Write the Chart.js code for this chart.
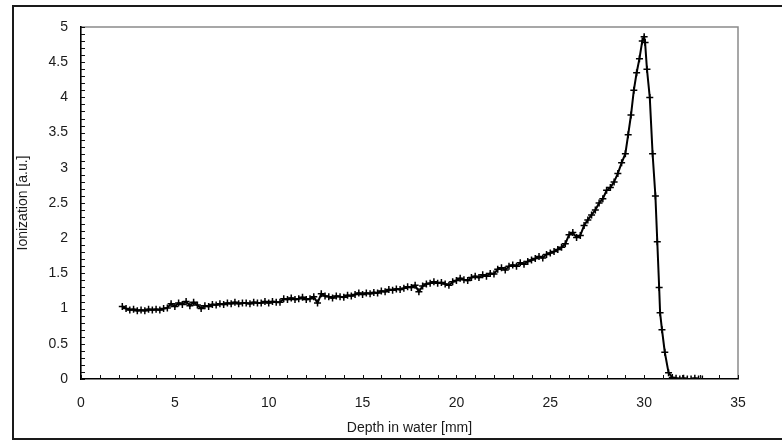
<!DOCTYPE html>
<html>
<head>
<meta charset="utf-8">
<script src="https://cdn.jsdelivr.net/npm/chart.js@4.4.1/dist/chart.umd.min.js"></script>
<style>
  html, body { margin: 0; padding: 0; background: #fff; }
  #wrap { width: 782px; height: 441px; position: relative; }
</style>
</head>
<body>
<div id="wrap"><canvas id="c" width="782" height="441"></canvas></div>
<script>
// Depth in water [mm]
const depth = [
  2.2, 2.4, 2.6, 2.8, 3.0, 3.2, 3.4, 3.6, 3.8, 4.0,
  4.2, 4.4, 4.6, 4.8, 5.0, 5.2, 5.4, 5.6, 5.8, 6.0,
  6.2, 6.4, 6.6, 6.8, 7.0, 7.2, 7.4, 7.6, 7.8, 8.0,
  8.2, 8.4, 8.6, 8.8, 9.0, 9.2, 9.4, 9.6, 9.8, 10.0,
  10.2, 10.4, 10.6, 10.8, 11.0, 11.2, 11.4, 11.6, 11.8, 12.0,
  12.2, 12.4, 12.6, 12.8, 13.0, 13.2, 13.4, 13.6, 13.8, 14.0,
  14.2, 14.4, 14.6, 14.8, 15.0, 15.2, 15.4, 15.6, 15.8, 16.0,
  16.2, 16.4, 16.6, 16.8, 17.0, 17.2, 17.4, 17.6, 17.8, 18.0,
  18.2, 18.4, 18.6, 18.8, 19.0, 19.2, 19.4, 19.6, 19.8, 20.0,
  20.2, 20.4, 20.6, 20.8, 21.0, 21.2, 21.4, 21.6, 21.8, 22.0,
  22.2, 22.4, 22.6, 22.8, 23.0, 23.2, 23.4, 23.6, 23.8, 24.0,
  24.2, 24.4, 24.6, 24.8, 25.0, 25.2, 25.4, 25.6, 25.8, 26.0,
  26.2, 26.4, 26.6, 26.8, 27.0, 27.2, 27.4, 27.6, 27.8, 28.0,
  28.2, 28.4, 28.6, 28.8, 29.0, 29.15, 29.3, 29.45, 29.6, 29.75,
  29.9, 30.0, 30.05, 30.15, 30.3, 30.45, 30.6, 30.7, 30.8, 30.85,
  30.95, 31.1, 31.3, 31.5, 31.7, 31.9, 32.1, 32.3, 32.5, 32.7,
  32.9, 33.1
];
// Ionization [a.u.]
const ionization = [
  1.03, 1.00, 0.98, 0.99, 0.97, 0.98, 0.97, 0.99, 0.98, 0.99,
  0.98, 1.00, 1.01, 1.07, 1.03, 1.08, 1.06, 1.10, 1.04, 1.09,
  1.05, 1.00, 1.04, 1.03, 1.06, 1.05, 1.07, 1.06, 1.08, 1.07,
  1.09, 1.07, 1.08, 1.08, 1.07, 1.09, 1.08, 1.08, 1.10, 1.08,
  1.10, 1.09, 1.09, 1.14, 1.13, 1.15, 1.13, 1.14, 1.16, 1.13,
  1.14, 1.17, 1.08, 1.21, 1.18, 1.17, 1.15, 1.18, 1.17, 1.16,
  1.19, 1.18, 1.20, 1.22, 1.20, 1.22, 1.21, 1.23, 1.22, 1.25,
  1.24, 1.27, 1.26, 1.28, 1.27, 1.29, 1.31, 1.30, 1.33, 1.24,
  1.32, 1.35, 1.36, 1.38, 1.36, 1.37, 1.35, 1.33, 1.38, 1.40,
  1.43, 1.41, 1.40, 1.44, 1.46, 1.44, 1.48, 1.46, 1.50, 1.49,
  1.56, 1.58, 1.55, 1.60, 1.62, 1.60, 1.65, 1.63, 1.67, 1.69,
  1.71, 1.74, 1.72, 1.77, 1.79, 1.81, 1.84, 1.87, 1.92, 2.05,
  2.08, 2.01, 2.04, 2.18, 2.26, 2.33, 2.40, 2.50, 2.56, 2.68,
  2.72, 2.80, 2.92, 3.07, 3.20, 3.47, 3.75, 4.10, 4.35, 4.55,
  4.80, 4.86, 4.78, 4.40, 4.00, 3.20, 2.60, 1.95, 1.30, 0.94,
  0.70, 0.38, 0.09, 0.02, 0.01, 0.00, 0.01, 0.00, 0.00, 0.01,
  0.00, 0.00
];
const xTickStep = 5;
const yTickStep = 0.5;

const points = depth.map((d, i) => ({ x: d, y: ionization[i] }));

const frame = {
  id: 'frame',
  beforeDraw(chart) {
    const ctx = chart.ctx;
    ctx.save();
    ctx.fillStyle = '#fff';
    ctx.fillRect(0, 0, chart.width, chart.height);
    ctx.strokeStyle = '#1a1a1a';
    ctx.lineWidth = 2;
    ctx.strokeRect(13, 6, chart.width, 433);
    const a = chart.chartArea;
    ctx.strokeStyle = '#8a8a8a';
    ctx.lineWidth = 1.5;
    ctx.beginPath();
    ctx.moveTo(a.left, a.top);
    ctx.lineTo(a.right, a.top);
    ctx.lineTo(a.right, a.bottom);
    ctx.stroke();
    ctx.restore();
  },
  afterDraw(chart) {
    const ctx = chart.ctx;
    const xs = chart.scales.x, ys = chart.scales.y;
    const a = chart.chartArea;
    ctx.save();
    ctx.strokeStyle = '#111';
    ctx.lineWidth = 1;
    ctx.beginPath();
    for (let k = 0; k <= 50; k++) {
      const py = Math.round(ys.getPixelForValue(k / 10)) + 0.5;
      ctx.moveTo(a.left, py);
      ctx.lineTo(a.left + 4, py);
    }
    for (let k = 0; k <= 35; k++) {
      const px = Math.round(xs.getPixelForValue(k)) + 0.5;
      ctx.moveTo(px, a.bottom);
      ctx.lineTo(px, a.bottom - 4);
    }
    ctx.stroke();
    ctx.restore();
  }
};

Chart.defaults.font.family = '"Liberation Sans", Arial, sans-serif';
Chart.defaults.color = '#1a1a1a';

new Chart(document.getElementById('c'), {
  type: 'scatter',
  data: {
    datasets: [{
      data: points,
      showLine: true,
      borderColor: '#000',
      borderWidth: 2,
      pointStyle: 'cross',
      pointRadius: 3.5,
      pointBorderWidth: 1.5,
      pointBorderColor: '#000',
      pointBackgroundColor: '#000',
      tension: 0
    }]
  },
  options: {
    responsive: false,
    animation: false,
    devicePixelRatio: 1,
    layout: { padding: { left: 15, top: 27, right: 44, bottom: 4 } },
    plugins: { legend: { display: false }, tooltip: { enabled: false } },
    scales: {
      x: {
        type: 'linear',
        min: 0, max: 35,
        afterFit(s) { s.height = 58; },
        ticks: { stepSize: xTickStep, padding: 16, font: { size: 14 }, maxRotation: 0 },
        grid: { display: false, drawTicks: false },
        border: { display: true, color: '#000', width: 1.6 },
        title: { display: true, text: 'Depth in water [mm]', font: { size: 14 }, padding: { top: 0, bottom: 0 } }
      },
      y: {
        type: 'linear',
        min: 0, max: 5,
        afterFit(s) { s.width = 66; },
        ticks: {
          stepSize: yTickStep, padding: 13, font: { size: 14 },
          callback: (v) => String(Math.round(v * 10) / 10)
        },
        grid: { display: false, drawTicks: false },
        border: { display: true, color: '#000', width: 1.6 },
        title: { display: true, text: 'Ionization [a.u.]', font: { size: 14 }, padding: { top: 0, bottom: 0 } }
      }
    }
  },
  plugins: [frame]
});
</script>
</body>
</html>
